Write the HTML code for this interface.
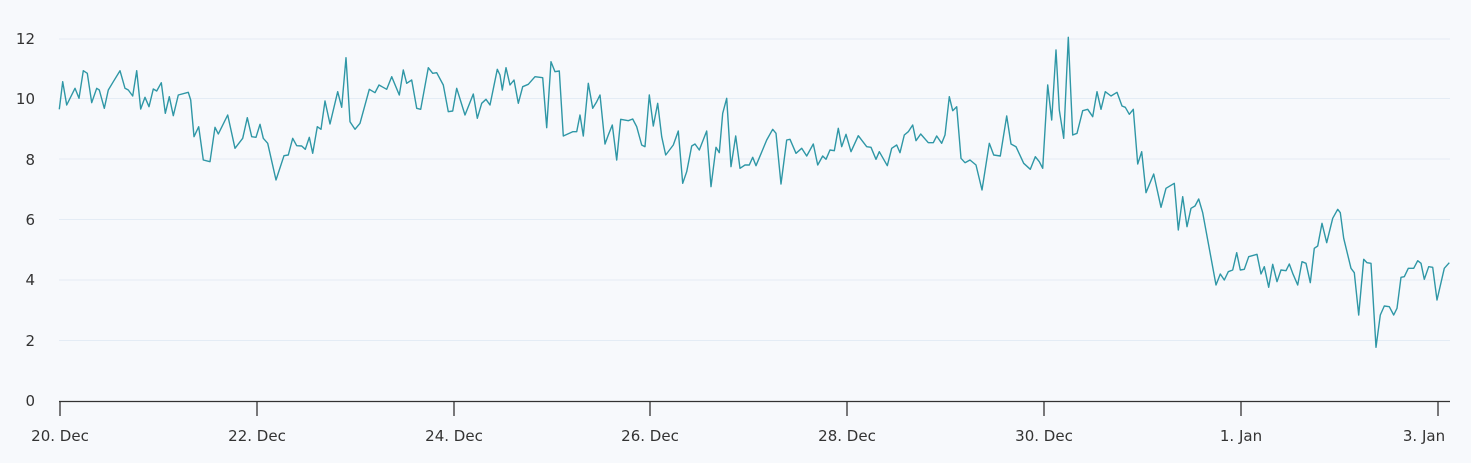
<!DOCTYPE html>
<html><head><meta charset="utf-8"><style>
html,body{margin:0;padding:0;background:#f7f9fc;}
svg{display:block;font-family:"DejaVu Sans","Liberation Sans",sans-serif;}
</style></head><body>
<svg width="1471" height="463" viewBox="0 0 1471 463">
<rect width="1471" height="463" fill="#f7f9fc"/>
<g stroke="#e4ecf5" stroke-width="1">
<line x1="59" x2="1450" y1="39" y2="39"/>
<line x1="59" x2="1450" y1="98.5" y2="98.5"/>
<line x1="59" x2="1450" y1="159" y2="159"/>
<line x1="59" x2="1450" y1="219.5" y2="219.5"/>
<line x1="59" x2="1450" y1="280" y2="280"/>
<line x1="59" x2="1450" y1="340.5" y2="340.5"/>
</g>
<g fill="#333" font-size="15" text-anchor="end">
<text x="35" y="44">12</text>
<text x="35" y="104">10</text>
<text x="35" y="165">8</text>
<text x="35" y="225">6</text>
<text x="35" y="285">4</text>
<text x="35" y="346">2</text>
<text x="35" y="406">0</text>
</g>
<line x1="59" x2="1450" y1="401.5" y2="401.5" stroke="#333" stroke-width="1.3"/>
<g stroke="#333" stroke-width="1.3">
<line x1="60" x2="60" y1="401" y2="416"/>
<line x1="257" x2="257" y1="401" y2="416"/>
<line x1="454" x2="454" y1="401" y2="416"/>
<line x1="650" x2="650" y1="401" y2="416"/>
<line x1="847" x2="847" y1="401" y2="416"/>
<line x1="1044" x2="1044" y1="401" y2="416"/>
<line x1="1241" x2="1241" y1="401" y2="416"/>
<line x1="1438" x2="1438" y1="401" y2="416"/>
</g>
<g fill="#333" font-size="15" text-anchor="middle">
<text x="60" y="441">20. Dec</text>
<text x="257" y="441">22. Dec</text>
<text x="454" y="441">24. Dec</text>
<text x="650" y="441">26. Dec</text>
<text x="847" y="441">28. Dec</text>
<text x="1044" y="441">30. Dec</text>
<text x="1241" y="441">1. Jan</text>
<text x="1424" y="441">3. Jan</text>
</g>
<polyline fill="none" stroke="#2f97a6" stroke-width="1.4" stroke-linejoin="round" points="
59.3,109.3 62.7,81.7 66.7,105 75,88.3 79,98.3 83.3,70.7 87.3,73.3 91.7,102.7 96.7,88.3 99.3,90 104.3,108.3 108.3,90 113.3,81.7 120,70.7 125,88.3 128.3,90 132.7,96 136.7,70.7 140.7,109 145,97.3 149,106.7 153.3,89 156.7,91 161.3,82.7 165.3,113.3 169.3,96.7 173.3,115.7 178.3,95 188.3,92.3 190.7,100 194,136.7 198.7,126.7 203.3,160 210,161.7 215,127.3 218.3,134 227.7,115 235,148.3 242.7,138.3 247.3,117.7 251.7,136.7 256,137.3 260,124.3 263.3,138.3 267.7,143.3 276,180 284,155.7 288.3,155 292.7,138.3 296.7,145.7 301.7,146 305.3,149.3 309.3,137.3 312.7,153.3 317.3,126.7 321,129.3 325,101 330,124 337.7,91.7 341.7,107.3 346,57.7 350,121.7 355,129.3 360,123.3 369.3,89.3 375,92.7 379,85 386.7,89.3 391.7,76.7 399.3,95 403.3,70 406.7,83.3 411.7,80 416.7,108.3 420.7,109.3 428.3,67.7 432.7,73.3 436.7,72.7 443.3,85 448.3,111.7 452.7,111 456.7,88.3 465,115 473.3,94 477.3,118.3 481.7,103.3 486,99.3 490,105 497.3,69.3 500,75
502.3,90 506,67.7 510,85 514,80 518.3,103.3 522.7,86.7 528.3,84.3 535,76.7 542.7,77.7 546.7,127.7 551,61.7 555,71.7 559.3,71 563.3,136 572.7,131.7 576.7,131.7 580,115 583.3,136 588.3,83.3 592.7,108.3 596.7,101.7 600,95 605,144 608.3,135 612.3,125 616.7,160 620.7,119.3 628.3,120.7 632.7,119 636.7,126.7 641.7,145 645,146.7 649.3,95 653.3,126 657.7,103.3 661.7,136.7 665.7,155 673.3,145 678.3,131 682.7,183.3 686.7,171.7 691.7,146 695,144 699.3,150 706.7,131 711,186.7 716,147.3 719.3,152.7 722.7,113.3 726.7,98.3 731,166.7 735.7,136 740,168.3 745,165 749.3,165 752.7,157.3 756,165.7 766.7,140 772.7,129.3 776,133.3 781,184 786.7,140 790,139.3 796,153.3 801.7,148.3 806.7,156 813.3,144 817.7,165 822.7,156 826,159.3 830,150 834.3,150.7 838.3,128.3 841.7,146.7 846,134.3 851,151.7 858.3,135.7 866.7,146.7 871,147.3 876,159.3 879.3,151.7 887.3,165.7 891.7,148.3 896.7,145 900,152.7 904.3,135 908.3,131.7 912.7,125 916,140.7 920.7,134 928.3,142.7 933.3,142.7 936.7,136 941.7,143.3 945,135 949.3,96.7 952.7,110.7 956.7,106.7 961,158.3 965,162.7 970,160 976,165 982,190 989.3,143.3 993.7,155 1000.3,156 1006.7,116 1011,144 1016,146.7 1023.7,163.3 1030.3,169.3 1035.3,156.7 1039.3,161.7 1042.7,168.3 1047.7,85 1051.7,120 1056,50 1059.3,110 1063.7,138.3 1068.3,37.3 1072.7,135 1077,133.3 1082.7,110.7 1087.7,109.3 1092.7,116.7 1097,91.7 1101,109.3 1105.3,91.7 1111,96 1117,92.3 1122,106 1125.3,107.3 1129.3,114.3 1133.3,109.3 1137.7,164 1141.7,151.7 1146,192.7 1153.7,174 1161,207.3 1166,188.3 1174.3,183.3 1178.3,230 1182.7,196.7 1187,226.7 1191,208.3 1195,206 1198.7,199 1202.7,212.7 1216,285 1220.3,274 1224.3,280 1228.3,271.7 1232.7,270 1236.7,252.7 1240.3,270 1244.3,269.3 1248.7,256.7 1257,254.3 1261,274 1264.3,266.7 1268.7,287.3 1272.7,264.3 1277,281.7 1281,270 1286,270.7 1289.3,264 1292.7,273.3 1297.7,285 1302,261.7 1306,263.3 1310.3,282.7 1314.3,248.3 1317.7,246 1322,223.3 1326.7,242.7 1332.7,218.3 1337.7,209.3 1340.3,212.7 1343.7,238.3 1351,268.3 1354.3,272.7 1358.7,315 1363.7,259.3 1367,262.7 1371,263.3 1376,347.3 1380.3,315 1384.3,306 1389.3,306.7 1393.7,315 1397,308.3 1401,277.3 1404.3,276.7 1408.3,268.3 1413.7,268.3 1417.7,260.7 1421,263.3 1424.3,279.3 1428.7,266.7 1432.7,267.3 1437,300 1444.3,268.3 1449.3,262.7"/>
</svg>
</body></html>
